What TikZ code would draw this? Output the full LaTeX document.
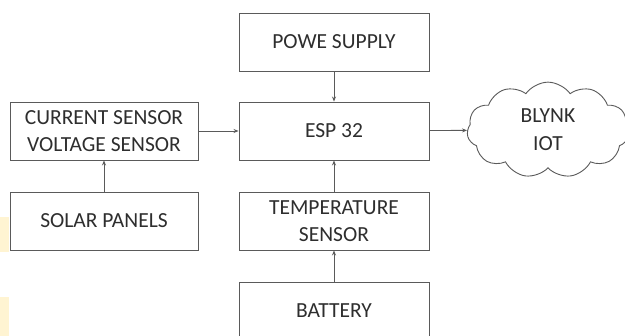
\documentclass[tikz,border=0pt]{standalone}
\usepackage{fontspec}
\setmainfont{Carlito}
\usepackage{xcolor}
\usetikzlibrary{positioning}
\usetikzlibrary{shapes.symbols}
\usetikzlibrary{arrows.meta}
\definecolor{linegray}{HTML}{5A5A5A}
\definecolor{textgray}{HTML}{2E2E2E}
\definecolor{paleyellow}{HTML}{FFF4D2}
\tikzstyle{myblock} = [rectangle, draw=linegray, line width=0.9pt, minimum width=190pt, minimum height=58pt, inner sep=0pt, align=center, text=textgray, font=\fontsize{21.5}{27}\selectfont]
\tikzstyle{myarrow} = [draw=linegray, line width=0.9pt, -{Stealth[length=5pt,width=4pt]}]

\begin{document}
\begin{tikzpicture}[x=1pt, y=-1pt]
        \useasboundingbox (0,0) rectangle (625,336);
        \clip (0,0) rectangle (625,336);
        \fill[white] (0,0) rectangle (625,336);
        \fill[paleyellow] (0,217) rectangle (9,252);
        \fill[paleyellow] (0,297) rectangle (9,336);

        % Blocks
        \node[myblock] (n_power) at (334,42) {POWE SUPPLY};
        \node[myblock] (n_esp) at (334,131) {ESP 32};
        \node[myblock, minimum width=188pt] (n_sensor) at (104,131) {CURRENT SENSOR\\VOLTAGE SENSOR};
        \node[myblock, minimum width=188pt] (n_solar) at (104,221) {SOLAR PANELS};
        \node[myblock] (n_temp) at (334,221) {TEMPERATURE\\SENSOR};
        \node[myblock] (n_battery) at (334,311) {BATTERY};
        \node[cloud, cloud puffs=11, cloud puff arc=110, draw=linegray, line width=0.9pt, minimum width=162pt, minimum height=88pt, align=center, text=textgray, font=\fontsize{21.5}{28}\selectfont] (n_cloud) at (548,130) {BLYNK\\IOT};

        % Connections
        \draw[myarrow] (n_power) -- (n_esp);
        \draw[myarrow] (n_sensor) -- (n_esp);
        \draw[myarrow] (n_esp) -- (n_cloud);
        \draw[myarrow] (n_solar) -- (n_sensor);
        \draw[myarrow] (n_temp) -- (n_esp);
        \draw[myarrow] (n_battery) -- (n_temp);
\end{tikzpicture}
\end{document}
